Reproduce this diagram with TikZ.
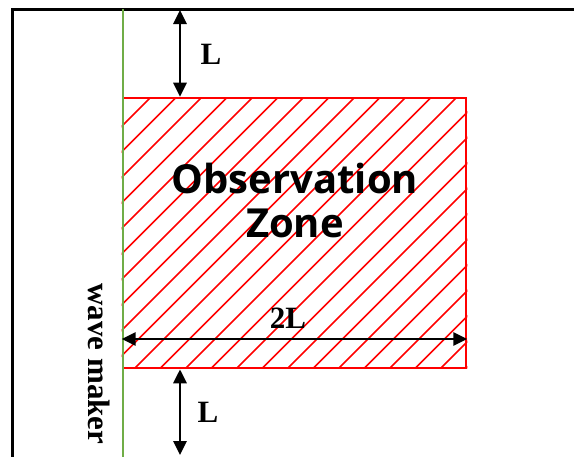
\documentclass[tikz,border=0pt]{standalone}
\usepackage{fontspec}
\setmainfont{Liberation Serif}
\newfontfamily\zonefont{Open Sans}
\usetikzlibrary{arrows.meta,positioning}

\begin{document}
\begin{tikzpicture}[x=1pt, y=-1pt,
  dimarrow/.style={{Triangle[length=14pt,width=13pt]}-{Triangle[length=14pt,width=13pt]}, line width=2.8pt},
  dimlabel/.style={font=\bfseries\fontsize{31}{31}\selectfont, inner sep=0pt},
  zone/.style={draw=red, line width=2.6pt, minimum width=343pt, minimum height=270pt, inner sep=0pt},
  hatch/.style={red, line width=1.5pt},
  maker/.style={draw={rgb,255:red,112;green,173;blue,71}, line width=2.6pt}
]
\useasboundingbox (0,0) rectangle (574,456);
\clip (0,0) rectangle (574,456);
\draw[line width=3pt] (12,470) -- (12,9) -- (590,9);

\node[zone] (obs) at (294.5,233) {};
\begin{scope}
  \clip (obs.south west) rectangle (obs.north east);
  \foreach \i in {0,...,30}
    \draw[hatch] (-120+25.5*\i,368) -- ++(270,-270);
\end{scope}
\draw[maker] (123,9) -- (123,460);

\node[font=\zonefont\bfseries\fontsize{40}{44}\selectfont, align=center] (zlabel) at (295,200) {Observation\\Zone};

\coordinate (ttop) at (180,10);
\coordinate (tbot) at (180,455);
\coordinate (hrow) at (0,339);
\draw[dimarrow] (ttop) -- (obs.north -| ttop);
\draw[dimarrow] (obs.south -| tbot) -- (tbot);
\draw[dimarrow] (obs.west |- hrow) -- (obs.east |- hrow);

\node[dimlabel] (ltop) at (211,54) {L};
\node[dimlabel] (lbot) at (208,412) {L};
\node[dimlabel] (twol) at (288,318) {2L};
\node[dimlabel, rotate=-90] (wm) at (99,364) {wave maker};
\end{tikzpicture}
\end{document}
